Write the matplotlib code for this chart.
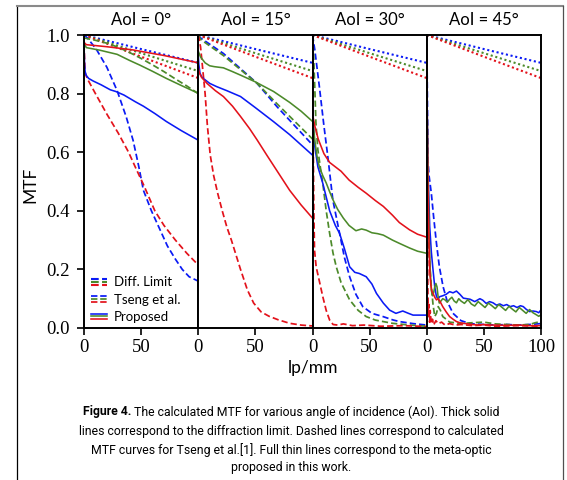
import matplotlib
matplotlib.use("Agg")
import matplotlib.pyplot as plt
from matplotlib.lines import Line2D
from matplotlib.legend_handler import HandlerBase

# ---------------------------------------------------------------- data
angles = [0, 15, 30, 45]
x_ticks_inner = [0, 50]
x_ticks_last = [0, 50, 100]
y_ticks = [0.0, 0.2, 0.4, 0.6, 0.8, 1.0]

# diffraction limit (same for every angle)
diff_x = [0, 50, 100]
diff_limit = {
    "blue": [1.0, 0.952, 0.905],
    "green": [1.0, 0.938, 0.877],
    "red": [1.0, 0.926, 0.853],
}

# AoI = 0 deg
tseng_00 = {
    "blue": ([0, 3, 11, 20, 29, 37, 43, 48, 52, 59, 66, 73, 80, 86, 92, 100],
             [1.0, 0.99, 0.95, 0.89, 0.81, 0.72, 0.64, 0.55, 0.47, 0.40, 0.34, 0.28, 0.235, 0.20, 0.175, 0.16]),
    "green": ([0, 10, 20, 30, 40, 50, 60, 70, 80, 90, 100],
              [0.99, 0.982, 0.972, 0.958, 0.94, 0.92, 0.898, 0.875, 0.85, 0.826, 0.80]),
    "red": ([0, 1, 3, 10, 20, 30, 39, 46, 52, 62, 70, 80, 90, 100],
            [0.97, 0.87, 0.85, 0.80, 0.73, 0.665, 0.60, 0.54, 0.49, 0.40, 0.35, 0.30, 0.255, 0.215]),
}
proposed_00 = {
    "blue": ([0, 0.5, 1, 2, 4, 8, 15, 23, 28, 35, 45, 52, 62, 72, 85, 100],
             [0.97, 0.90, 0.875, 0.862, 0.852, 0.843, 0.83, 0.813, 0.807, 0.795, 0.772, 0.757, 0.732, 0.705, 0.674, 0.641]),
    "green": ([0, 2, 14, 29, 40, 49, 60, 72, 85, 100],
              [0.972, 0.957, 0.948, 0.934, 0.913, 0.897, 0.876, 0.852, 0.828, 0.801]),
    "red": ([0, 2, 20, 43, 70, 100],
            [0.975, 0.967, 0.96, 0.949, 0.93, 0.905]),
}

# AoI = 15 deg
tseng_15 = {
    "blue": ([0, 2, 22, 51.5, 69, 100],
             [1.0, 0.99, 0.937, 0.835, 0.755, 0.625]),
    "green": ([0, 2, 22, 51.5, 69, 100],
              [1.0, 0.985, 0.93, 0.835, 0.765, 0.645]),
    "red": ([0, 2, 4, 6, 8, 10.5, 13.5, 17, 21, 25, 29, 33, 37, 43, 48.5, 55, 62, 70, 80, 90, 100],
            [1.0, 0.96, 0.88, 0.80, 0.69, 0.59, 0.52, 0.46, 0.40, 0.345, 0.30, 0.25, 0.20, 0.13, 0.085,
             0.055, 0.04, 0.028, 0.016, 0.01, 0.007]),
}
proposed_15 = {
    "blue": ([0, 0.5, 1.5, 3, 5, 10, 16, 25, 37, 50, 66, 80, 90, 100],
             [0.93, 0.90, 0.87, 0.857, 0.85, 0.835, 0.824, 0.81, 0.79, 0.752, 0.704, 0.66, 0.625, 0.59]),
    "green": ([0, 2, 6, 10, 14, 22, 30, 37, 50, 66, 80, 90, 100],
              [0.945, 0.925, 0.905, 0.895, 0.892, 0.888, 0.875, 0.863, 0.84, 0.807, 0.77, 0.74, 0.705]),
    "red": ([0, 1, 3, 7.6, 15, 22, 30, 37, 45, 51.5, 60, 70, 80, 90, 100],
            [0.89, 0.87, 0.855, 0.835, 0.81, 0.79, 0.757, 0.722, 0.68, 0.642, 0.59, 0.53, 0.47, 0.42, 0.375]),
}

# AoI = 30 deg
tseng_30 = {
    "blue": ([0, 2, 6, 10, 13.4, 17.8, 23.7, 28, 32.5, 38, 44, 52, 61.7, 70, 76, 88, 100],
             [1.0, 0.95, 0.824, 0.69, 0.585, 0.437, 0.323, 0.24, 0.175, 0.115, 0.073, 0.05, 0.039, 0.028,
              0.022, 0.015, 0.01]),
    "green": ([0, 1, 2, 3, 4.7, 7, 9, 12, 15, 18, 20.8, 25, 32.5, 40, 47, 55, 70, 85, 100],
              [1.0, 0.93, 0.82, 0.70, 0.608, 0.545, 0.494, 0.40, 0.323, 0.255, 0.209, 0.155, 0.096, 0.06,
               0.039, 0.027, 0.016, 0.01, 0.006]),
    "red": ([0, 0.3, 0.7, 1.2, 1.75, 3.2, 6, 9, 12, 15, 18, 22, 27, 35, 45, 60, 80, 100],
            [1.0, 0.85, 0.6, 0.4, 0.266, 0.209, 0.16, 0.107, 0.06, 0.027, 0.012, 0.01, 0.014, 0.008, 0.01,
             0.006, 0.008, 0.005]),
}
proposed_30 = {
    "blue": ([0, 1, 2, 4.7, 9, 15, 20, 23.7, 28, 32.5, 37, 41, 47, 52, 56, 62, 67.5, 73, 79, 84, 88, 94, 100],
             [0.75, 0.68, 0.62, 0.55, 0.494, 0.40, 0.35, 0.323, 0.27, 0.209, 0.19, 0.186, 0.175, 0.15, 0.118,
              0.085, 0.061, 0.05, 0.058, 0.05, 0.044, 0.044, 0.044]),
    "green": ([0, 1, 2, 4, 6, 9, 12, 15, 18, 22, 27, 32, 38, 43, 47, 52, 57, 62, 70, 76, 85, 92, 100],
              [0.72, 0.68, 0.64, 0.585, 0.55, 0.52, 0.495, 0.465, 0.437, 0.405, 0.375, 0.35, 0.332, 0.338,
               0.334, 0.325, 0.322, 0.317, 0.30, 0.289, 0.273, 0.262, 0.255]),
    "red": ([0, 2, 5, 10, 15, 20, 25, 32, 40, 47, 55, 62, 70, 76, 85, 92, 100],
            [0.73, 0.69, 0.645, 0.595, 0.565, 0.55, 0.535, 0.505, 0.48, 0.46, 0.435, 0.415, 0.385, 0.36,
             0.335, 0.32, 0.31]),
}

# AoI = 45 deg
tseng_45 = {
    "blue": ([0, 0.3, 0.7, 1.1, 2, 4, 6, 8.5, 11, 14.3, 18, 23, 30, 38, 50, 60, 70, 80, 90, 100],
             [1.0, 0.9, 0.72, 0.573, 0.52, 0.46, 0.38, 0.289, 0.21, 0.141, 0.09, 0.05, 0.025, 0.015, 0.012,
              0.01, 0.012, 0.01, 0.012, 0.015]),
    "green": ([0, 0.5, 1, 2, 4, 5.5, 7, 8.5, 10, 12, 14, 17, 20, 25, 30, 40, 50, 60, 70, 80, 90, 95, 100],
              [0.9, 0.6, 0.4, 0.25, 0.141, 0.08, 0.039, 0.05, 0.073, 0.06, 0.039, 0.03, 0.02, 0.018, 0.015,
               0.018, 0.02, 0.014, 0.012, 0.01, 0.012, 0.018, 0.022]),
    "red": ([0, 0.3, 0.6, 1, 1.5, 2, 2.5, 3, 4, 5, 6, 8, 10, 13, 16, 20, 25, 30, 40, 50, 60, 80, 100],
            [1.0, 0.6, 0.3, 0.12, 0.04, 0.08, 0.02, 0.06, 0.015, 0.03, 0.01, 0.025, 0.015, 0.02, 0.01,
             0.015, 0.01, 0.012, 0.008, 0.01, 0.006, 0.008, 0.006]),
}
proposed_45 = {
    "blue": ([0, 0.5, 1, 2.6, 4, 5.5, 7, 8.5, 10, 11.4, 14, 17, 20, 23, 26, 29, 32, 35, 38, 42, 46.5, 49,
              52, 55, 58, 61, 64, 67, 70, 73, 76, 79, 82, 84.5, 87, 90, 93, 96, 98, 100],
             [0.9, 0.7, 0.55, 0.346, 0.26, 0.198, 0.14, 0.107, 0.1, 0.107, 0.11, 0.115, 0.124, 0.12, 0.126,
              0.115, 0.102, 0.1, 0.098, 0.09, 0.1, 0.095, 0.084, 0.09, 0.086, 0.078, 0.082, 0.076, 0.08,
              0.073, 0.076, 0.07, 0.076, 0.073, 0.064, 0.056, 0.058, 0.056, 0.052, 0.062]),
    "green": ([0, 1, 2, 3, 4, 5, 6, 7, 8, 9, 10, 11, 12, 14, 16, 18, 20, 22, 24, 26, 28, 30, 33, 36, 39, 42,
               45, 48, 51, 54, 57, 60, 63, 66, 69, 72, 75, 78, 81, 84, 87, 90, 93, 96, 98, 100],
              [0.85, 0.55, 0.33, 0.2, 0.13, 0.11, 0.12, 0.14, 0.152, 0.14, 0.105, 0.085, 0.09, 0.1, 0.096,
               0.088, 0.098, 0.105, 0.092, 0.086, 0.1, 0.092, 0.084, 0.097, 0.082, 0.075, 0.09, 0.08, 0.07,
               0.085, 0.076, 0.066, 0.08, 0.07, 0.06, 0.074, 0.064, 0.055, 0.07, 0.06, 0.05, 0.063, 0.052,
               0.045, 0.04, 0.045]),
    "red": ([0, 0.5, 1, 1.5, 2, 2.6, 3.5, 4.5, 5.5, 7, 8.5, 10, 12, 14, 17, 20, 23, 26, 29, 32, 36, 40, 45,
             50, 55, 60, 70, 80, 90, 100],
            [0.95, 0.7, 0.5, 0.38, 0.28, 0.198, 0.15, 0.125, 0.118, 0.105, 0.096, 0.1, 0.088, 0.073, 0.055,
             0.039, 0.03, 0.022, 0.018, 0.016, 0.014, 0.012, 0.01, 0.012, 0.01, 0.01, 0.009, 0.01, 0.008,
             0.008]),
}

tseng_sets = [tseng_00, tseng_15, tseng_30, tseng_45]
proposed_sets = [proposed_00, proposed_15, proposed_30, proposed_45]

legend_labels = ["Diff. Limit", "Tseng et al.", "Proposed"]
caption_bold = "Figure 4."
caption_lines = [
    " The calculated MTF for various angle of incidence (AoI). Thick solid",
    "lines correspond to the diffraction limit. Dashed lines correspond to calculated",
    "MTF curves for Tseng et al.[1]. Full thin lines correspond to the meta-optic",
    "proposed in this work.",
]

# ---------------------------------------------------------------- style
COLORS = {"blue": "#0a1af5", "green": "#4c8a2a", "red": "#e3121b"}
ORDER = ["blue", "green", "red"]
TICK_FONT = "Liberation Serif"
LABEL_FONT = "Lato"
CAPTION_FONT = "Roboto"

W, H = 567, 480
fig = plt.figure(figsize=(W / 100, H / 100), dpi=100)

left_px, right_px, top_px, bottom_px = 84, 541, 35, 328
panel_w = (right_px - left_px) / len(angles)

axes = []
for i, ang in enumerate(angles):
    x0 = (left_px + i * panel_w) / W
    ax = fig.add_axes([x0, 1 - bottom_px / H, panel_w / W, (bottom_px - top_px) / H])
    axes.append(ax)

    for c in ORDER:
        ax.plot(diff_x, diff_limit[c], color=COLORS[c], ls=(0, (1, 1.3)), lw=1.5)
    for c in ORDER:
        xs, ys = tseng_sets[i][c]
        ax.plot(xs, ys, color=COLORS[c], ls=(0, (3.6, 1.8)), lw=1.25)
    for c in ORDER:
        xs, ys = proposed_sets[i][c]
        ax.plot(xs, ys, color=COLORS[c], ls="-", lw=1.15)

    ax.set_xlim(0, 100)
    ax.set_ylim(0, 1.0)
    ax.set_xticks(x_ticks_last if i == len(angles) - 1 else x_ticks_inner)
    for s in ax.spines.values():
        s.set_linewidth(1.4)
        s.set_color("black")
    ax.tick_params(axis="x", direction="out", length=5, width=1.2, pad=3,
                   labelsize=13.5)
    if i == 0:
        ax.set_yticks(y_ticks)
        ax.set_yticklabels([f"{v:.1f}" for v in y_ticks])
        ax.tick_params(axis="y", direction="out", length=5, width=1.2, pad=5,
                       labelsize=13.5)
    else:
        ax.set_yticks([])
    for lab in ax.get_xticklabels() + ax.get_yticklabels():
        lab.set_fontfamily(TICK_FONT)
    ax.set_title(f"AoI = {ang}°", fontsize=12, fontfamily=LABEL_FONT, pad=7)


# legend: three colours stacked per line style
class StackedHandler(HandlerBase):
    def create_artists(self, legend, orig_handle, xdescent, ydescent, width,
                       height, fontsize, trans):
        yc = (height - ydescent) / 2.0
        gap = 2.0
        out = []
        for k, c in enumerate(ORDER):
            y = yc + (1 - k) * gap
            ln = Line2D([-xdescent, width - xdescent], [y, y], color=COLORS[c],
                        ls=orig_handle.get_linestyle(), lw=orig_handle.get_linewidth(),
                        transform=trans)
            out.append(ln)
        return out


proxies = [Line2D([], [], ls=(0, (1, 1.3)), lw=1.5),
           Line2D([], [], ls=(0, (3.6, 1.8)), lw=1.25),
           Line2D([], [], ls="-", lw=1.15)]
leg = axes[0].legend(proxies, legend_labels, handler_map={Line2D: StackedHandler()},
                     loc="lower left", bbox_to_anchor=(-0.01, -0.012), frameon=False,
                     handlelength=1.2, handletextpad=0.5, labelspacing=0.4,
                     borderaxespad=0.25, prop={"family": LABEL_FONT, "size": 9.5})

fig.text(30 / W, 1 - 185 / H, "MTF", rotation=90, ha="center", va="center",
         fontsize=12.5, fontfamily=LABEL_FONT)
fig.text((left_px + right_px) / 2 / W, 1 - 368 / H, "lp/mm", ha="center", va="center",
         fontsize=12.5, fontfamily=LABEL_FONT)

# caption (first line: bold lead-in followed by regular text)
cap_size = 8.8
cap_y = [412, 431, 450, 468]
cx = 291 / W
renderer = fig.canvas.get_renderer()
t_bold = fig.text(0, 0, caption_bold, fontsize=cap_size, fontfamily=CAPTION_FONT,
                  fontweight="bold", va="center")
t_rest = fig.text(0, 0, caption_lines[0], fontsize=cap_size, fontfamily=CAPTION_FONT,
                  va="center")
wb = t_bold.get_window_extent(renderer).width / W
wr = t_rest.get_window_extent(renderer).width / W
start = cx - (wb + wr) / 2
t_bold.set_position((start, 1 - cap_y[0] / H))
t_rest.set_position((start + wb, 1 - cap_y[0] / H))
for line, y in zip(caption_lines[1:], cap_y[1:]):
    fig.text(cx, 1 - y / H, line, ha="center", va="center", fontsize=cap_size,
             fontfamily=CAPTION_FONT)

# outer frame
fx0, fx1, fy0 = 16.5 / W, 563 / W, 1 - 5.5 / H
fig.add_artist(Line2D([fx0, fx0], [0, fy0], transform=fig.transFigure, color="black", lw=0.9))
fig.add_artist(Line2D([fx0, fx1], [fy0, fy0], transform=fig.transFigure, color="#8a8a8a", lw=1.5))
fig.add_artist(Line2D([fx1, fx1], [0, fy0], transform=fig.transFigure, color="#505050", lw=0.9))

fig.savefig("out.png", dpi=100)
